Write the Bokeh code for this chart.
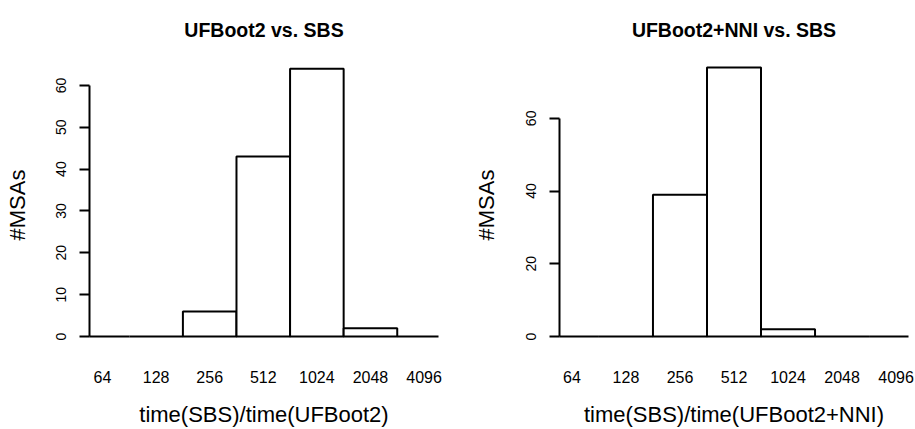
import numpy as np
from bokeh.plotting import figure
from bokeh.layouts import row
from bokeh.models import Range1d, FixedTicker, ColumnDataSource
from bokeh.embed import file_html
from bokeh.resources import INLINE

# ---- data ----
bin_labels = ["64", "128", "256", "512", "1024", "2048", "4096"]
counts_ufboot2 = [0, 0, 6, 43, 64, 2, 0]
counts_ufboot2_nni = [0, 0, 39, 74, 2, 0, 0]
yticks_left = [0, 10, 20, 30, 40, 50, 60]
yticks_right = [0, 20, 40, 60]

FONT = "Liberation Sans"
FRAME_W, FRAME_H = 349, 290
BORDER_TOP, BORDER_BOTTOM = 60, 79


def make_panel(title, xlabel, counts, yticks, width, border_left,
               xr, yr, ylabel_standoff):
    centers = np.log2([int(s) for s in bin_labels])
    src = ColumnDataSource(dict(left=centers - 0.5, right=centers + 0.5,
                                top=counts, bottom=[0] * len(counts)))
    p = figure(width=width, height=BORDER_TOP + FRAME_H + BORDER_BOTTOM,
               output_backend="svg", toolbar_location=None,
               x_range=Range1d(*xr), y_range=Range1d(*yr),
               min_border_left=border_left, min_border_right=width - border_left - FRAME_W,
               min_border_top=BORDER_TOP, min_border_bottom=BORDER_BOTTOM,
               background_fill_color="white", border_fill_color="white")
    p.outline_line_color = None
    p.grid.visible = False
    p.quad(left="left", right="right", top="top", bottom="bottom", source=src,
           fill_color="white", line_color="black", line_width=2)

    # x axis (below): labels only
    xa = p.below[0]
    xa.ticker = FixedTicker(ticks=list(centers))
    xa.major_label_overrides = {float(c): s for c, s in zip(centers, bin_labels)}
    xa.axis_line_color = None
    xa.major_tick_line_color = None
    xa.minor_tick_line_color = None
    xa.major_tick_out = 0
    xa.major_tick_in = 0
    xa.major_label_standoff = 21
    xa.major_label_text_font = FONT
    xa.major_label_text_font_size = "16px"
    xa.major_label_text_color = "black"
    xa.axis_label = xlabel
    xa.axis_label_text_font = FONT
    xa.axis_label_text_font_size = "22px"
    xa.axis_label_text_font_style = "normal"
    xa.axis_label_text_color = "black"
    xa.axis_label_standoff = 16

    # y axis
    ya = p.left[0]
    ya.ticker = FixedTicker(ticks=yticks)
    ya.bounds = (yticks[0], yticks[-1])
    ya.axis_line_width = 2
    ya.axis_line_color = "black"
    ya.major_tick_line_width = 2
    ya.major_tick_line_color = "black"
    ya.major_tick_out = 10
    ya.major_tick_in = 0
    ya.minor_tick_line_color = None
    ya.major_label_orientation = "vertical"
    ya.major_label_standoff = 13
    ya.major_label_text_font = FONT
    ya.major_label_text_font_size = "14px"
    ya.major_label_text_color = "black"
    ya.axis_label = "#MSAs"
    ya.axis_label_text_font = FONT
    ya.axis_label_text_font_size = "22px"
    ya.axis_label_text_font_style = "normal"
    ya.axis_label_text_color = "black"
    ya.axis_label_standoff = ylabel_standoff

    # title, pushed as high as the top margin allows
    p.title.text = title
    p.title.align = "center"
    p.title.vertical_align = "top"
    p.title.text_font = FONT
    p.title.text_font_size = "19.5px"
    p.title.text_font_style = "bold"
    p.title.text_color = "black"
    p.title.standoff = 36
    return p


p1 = make_panel("UFBoot2 vs. SBS", "time(SBS)/time(UFBoot2)", counts_ufboot2,
                yticks_left, 455, 89, (5.757, 12.27), (-3.1, 65.95), 24)
p2 = make_panel("UFBoot2+NNI vs. SBS", "time(SBS)/time(UFBoot2+NNI)", counts_ufboot2_nni,
                yticks_right, 460, 104, (5.77, 12.23), (-3.56, 75.9), 25)

layout = row(p1, p2)
open("out.html", "w").write(file_html(layout, INLINE))
